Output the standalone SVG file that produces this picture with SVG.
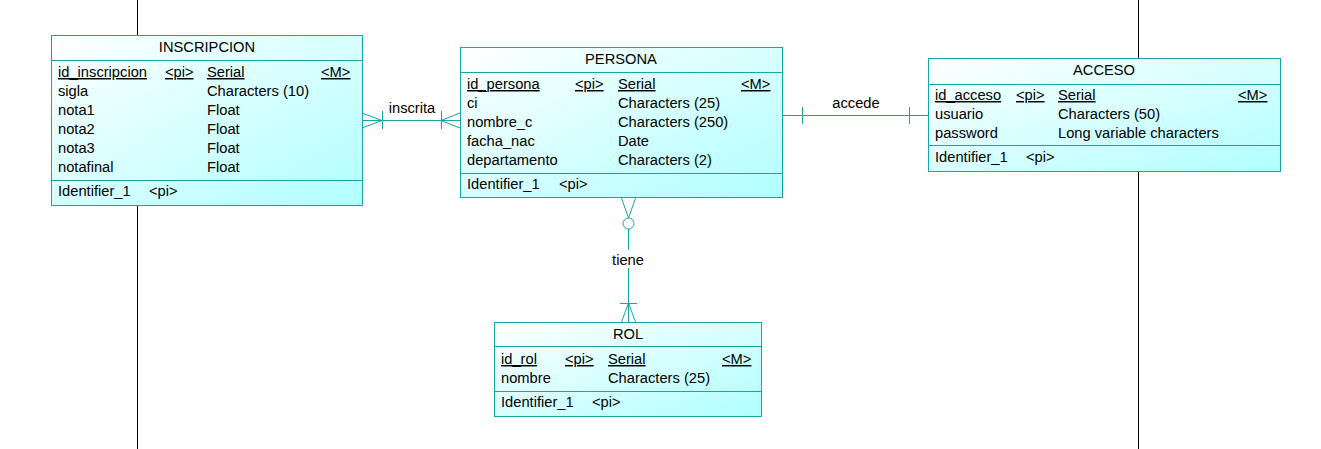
<svg xmlns="http://www.w3.org/2000/svg" width="1321" height="449" viewBox="0 0 1321 449">
<defs>
<linearGradient id="g" x1="0" y1="0" x2="1" y2="1">
<stop offset="0" stop-color="#ffffff"/>
<stop offset="1" stop-color="#b0ffff"/>
</linearGradient>
<style>
text{font-family:"Liberation Sans",Arial,sans-serif;font-size:14.7px;fill:#000}
.t{text-anchor:middle}
.u{text-decoration:underline}
.box{fill:url(#g);stroke:#14a7a7;stroke-width:1}
.sep{stroke:#14a7a7;stroke-width:1;fill:none}
.c{stroke:#14a7a7;stroke-width:1;fill:none}
.bg{stroke:#000;stroke-width:1}
</style>
</defs>
<rect width="1321" height="449" fill="#fff"/>
<g id="background">
<line class="bg" x1="137.5" y1="0" x2="137.5" y2="449"/>
<line class="bg" x1="1138.5" y1="0" x2="1138.5" y2="449"/>
</g>
<g id="connectors">
<!-- inscrita -->
<line class="c" x1="362" y1="120.5" x2="460" y2="120.5"/>
<polyline class="c" points="362,113 382,120.5 362,128"/>
<line class="c" x1="382.5" y1="111" x2="382.5" y2="129"/>
<polyline class="c" points="460,113 441,120.5 460,128"/>
<line class="c" x1="441.5" y1="111" x2="441.5" y2="129"/>
<text x="412" y="113" class="t">inscrita</text>
<!-- accede -->
<line class="c" x1="782" y1="115.5" x2="928" y2="115.5"/>
<line class="c" x1="802.5" y1="107" x2="802.5" y2="124"/>
<line class="c" x1="909.5" y1="107" x2="909.5" y2="124"/>
<text x="856" y="108" class="t">accede</text>
<!-- tiene -->
<line class="c" x1="628.5" y1="229" x2="628.5" y2="250"/>
<line class="c" x1="628.5" y1="268" x2="628.5" y2="322"/>
<polyline class="c" points="621.5,198 628.5,218 635.5,198"/>
<circle class="c" cx="628.5" cy="223.5" r="5.5" fill="#fff"/>
<line class="c" x1="620" y1="303.5" x2="637" y2="303.5"/>
<polyline class="c" points="621.5,322 628.5,303 635.5,322"/>
<text x="628" y="265" class="t">tiene</text>
</g>
<g id="INSCRIPCION">
<rect class="box" x="51.5" y="35.5" width="311" height="170"/>
<line class="sep" x1="51.5" y1="60.5" x2="362.5" y2="60.5"/>
<line class="sep" x1="51.5" y1="180.5" x2="362.5" y2="180.5"/>
<text x="207" y="52" class="t">INSCRIPCION</text>
<text x="58" y="77" class="u">id_inscripcion</text>
<text x="165" y="77" class="u">&lt;pi&gt;</text>
<text x="207" y="77" class="u">Serial</text>
<text x="321" y="77" class="u">&lt;M&gt;</text>
<text x="58" y="96">sigla</text><text x="207" y="96">Characters (10)</text>
<text x="58" y="115">nota1</text><text x="207" y="115">Float</text>
<text x="58" y="134">nota2</text><text x="207" y="134">Float</text>
<text x="58" y="153">nota3</text><text x="207" y="153">Float</text>
<text x="58" y="172">notafinal</text><text x="207" y="172">Float</text>
<text x="58" y="196">Identifier_1</text><text x="149" y="196">&lt;pi&gt;</text>
</g>
<g id="PERSONA">
<rect class="box" x="460.5" y="47.5" width="322" height="150"/>
<line class="sep" x1="460.5" y1="72.5" x2="782.5" y2="72.5"/>
<line class="sep" x1="460.5" y1="173.5" x2="782.5" y2="173.5"/>
<text x="621" y="64" class="t">PERSONA</text>
<text x="467" y="89" class="u">id_persona</text>
<text x="575" y="89" class="u">&lt;pi&gt;</text>
<text x="618" y="89" class="u">Serial</text>
<text x="741" y="89" class="u">&lt;M&gt;</text>
<text x="467" y="108">ci</text><text x="618" y="108">Characters (25)</text>
<text x="467" y="127">nombre_c</text><text x="618" y="127">Characters (250)</text>
<text x="467" y="146">facha_nac</text><text x="618" y="146">Date</text>
<text x="467" y="165">departamento</text><text x="618" y="165">Characters (2)</text>
<text x="467" y="189">Identifier_1</text><text x="559" y="189">&lt;pi&gt;</text>
</g>
<g id="ACCESO">
<rect class="box" x="928.5" y="58.5" width="352" height="113"/>
<line class="sep" x1="928.5" y1="84.5" x2="1280.5" y2="84.5"/>
<line class="sep" x1="928.5" y1="145.5" x2="1280.5" y2="145.5"/>
<text x="1104" y="75" class="t">ACCESO</text>
<text x="935" y="100" class="u">id_acceso</text>
<text x="1016" y="100" class="u">&lt;pi&gt;</text>
<text x="1058" y="100" class="u">Serial</text>
<text x="1238" y="100" class="u">&lt;M&gt;</text>
<text x="935" y="119">usuario</text><text x="1058" y="119">Characters (50)</text>
<text x="935" y="138">password</text><text x="1058" y="138">Long variable characters</text>
<text x="935" y="162">Identifier_1</text><text x="1026" y="162">&lt;pi&gt;</text>
</g>
<g id="ROL">
<rect class="box" x="494.5" y="322.5" width="267" height="94"/>
<line class="sep" x1="494.5" y1="346.5" x2="761.5" y2="346.5"/>
<line class="sep" x1="494.5" y1="391.5" x2="761.5" y2="391.5"/>
<text x="628" y="339" class="t">ROL</text>
<text x="501" y="364" class="u">id_rol</text>
<text x="565" y="364" class="u">&lt;pi&gt;</text>
<text x="608" y="364" class="u">Serial</text>
<text x="722" y="364" class="u">&lt;M&gt;</text>
<text x="501" y="383">nombre</text><text x="608" y="383">Characters (25)</text>
<text x="501" y="407">Identifier_1</text><text x="592" y="407">&lt;pi&gt;</text>
</g>
</svg>
